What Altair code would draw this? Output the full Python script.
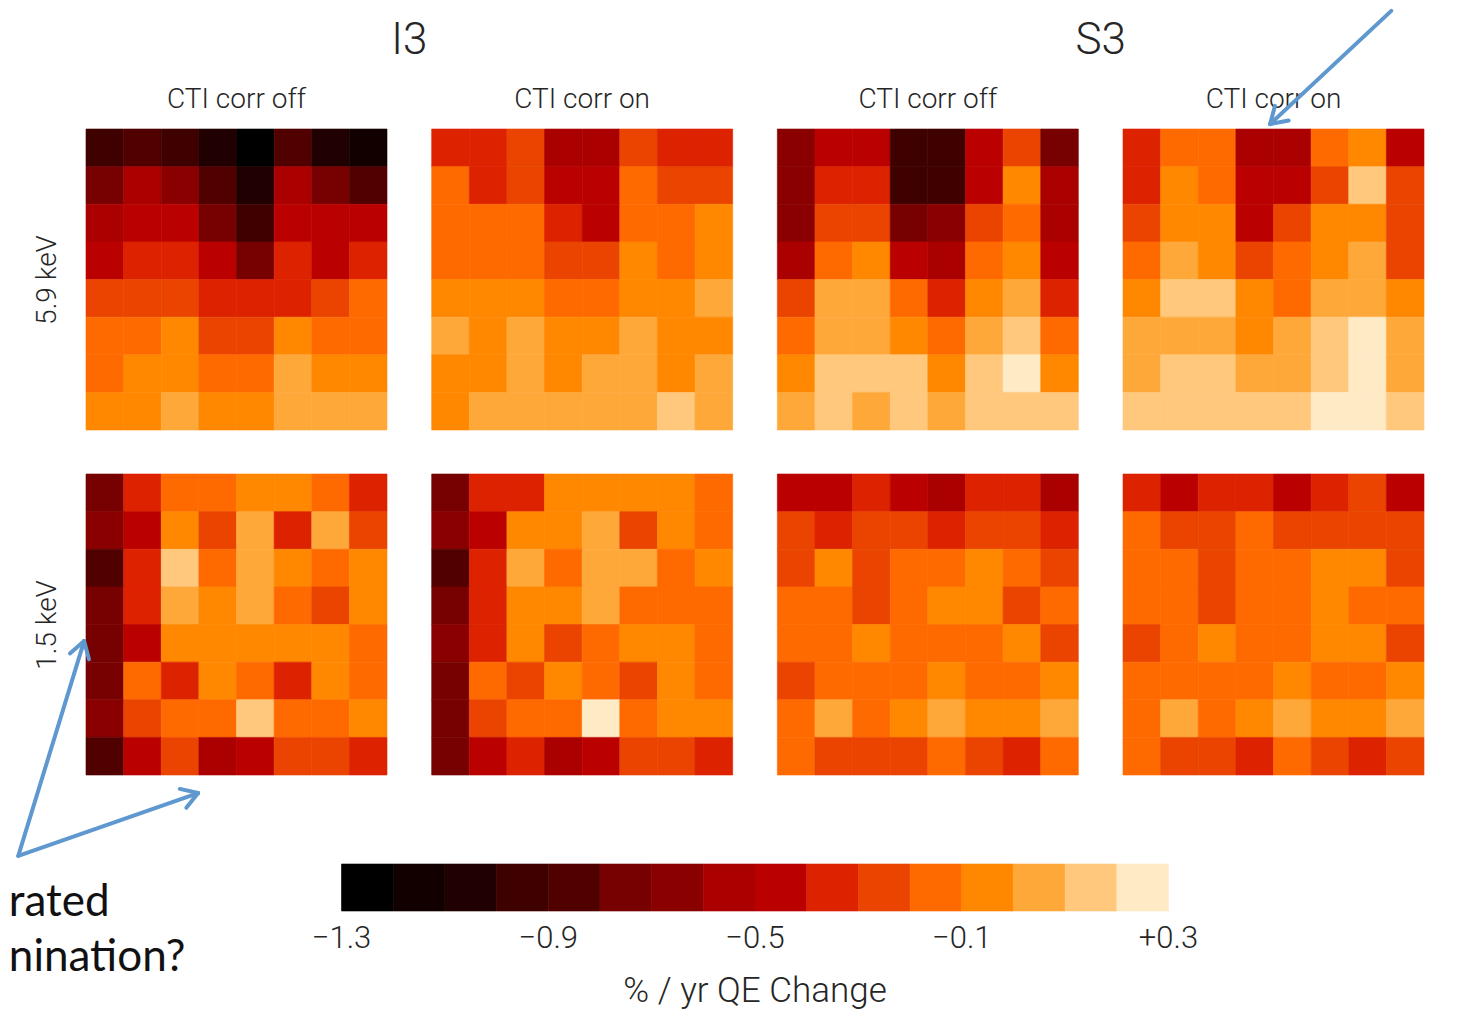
import math
import altair as alt
import pandas as pd

# ---------------- data ----------------
# colour-bin edges of the % / yr QE change scale
BIN_EDGES = [-1.3, -1.2, -1.1, -1.0, -0.9, -0.8, -0.7, -0.6, -0.5,
             -0.4, -0.3, -0.2, -0.1, 0.0, 0.1, 0.2, 0.3]
BIN_COLORS = ["#000000", "#120000", "#200000", "#3f0000", "#510000", "#770000",
              "#8a0000", "#aa0000", "#bb0000", "#dd2200", "#ea4400", "#ff6a00",
              "#ff8800", "#ffa83a", "#ffc87c", "#ffeac6"]
TICK_VALUES = [-1.3, -0.9, -0.5, -0.1, 0.3]
CB_TITLE = "% / yr QE Change"

DETECTORS = ["I3", "S3"]
CTI_LABELS = ["CTI corr off", "CTI corr on"]
ENERGIES = ["5.9 keV", "1.5 keV"]

# 8x8 node maps, values are bin indices of the colour scale (row 0 = top)
I3_OFF_59 = [[3, 4, 3, 2, 0, 4, 2, 1],
             [5, 7, 6, 4, 2, 7, 5, 4],
             [7, 8, 8, 5, 3, 8, 8, 8],
             [8, 9, 9, 8, 5, 9, 8, 9],
             [10, 10, 10, 9, 9, 9, 10, 11],
             [11, 11, 12, 10, 10, 12, 11, 11],
             [11, 12, 12, 11, 11, 13, 12, 12],
             [12, 12, 13, 12, 12, 13, 13, 13]]
I3_ON_59 = [[9, 9, 10, 7, 7, 10, 9, 9],
            [11, 9, 10, 8, 8, 11, 10, 10],
            [11, 11, 11, 9, 8, 11, 11, 12],
            [11, 11, 11, 10, 10, 12, 11, 12],
            [12, 12, 12, 11, 11, 12, 12, 13],
            [13, 12, 13, 12, 12, 13, 12, 12],
            [12, 12, 13, 12, 13, 13, 12, 13],
            [12, 13, 13, 13, 13, 13, 14, 13]]
S3_OFF_59 = [[6, 8, 8, 3, 3, 8, 10, 5],
             [6, 9, 9, 3, 3, 8, 12, 7],
             [6, 10, 10, 5, 6, 10, 11, 7],
             [7, 11, 12, 8, 7, 11, 12, 8],
             [10, 13, 13, 11, 9, 12, 13, 9],
             [11, 13, 13, 12, 11, 13, 14, 11],
             [12, 14, 14, 14, 12, 14, 15, 12],
             [13, 14, 13, 14, 13, 14, 14, 14]]
S3_ON_59 = [[9, 11, 11, 7, 7, 11, 12, 8],
            [9, 12, 11, 8, 8, 10, 14, 10],
            [10, 12, 12, 8, 10, 12, 12, 10],
            [11, 13, 12, 10, 11, 12, 13, 10],
            [12, 14, 14, 12, 11, 13, 13, 12],
            [13, 13, 13, 12, 13, 14, 15, 13],
            [13, 14, 14, 13, 13, 14, 15, 13],
            [14, 14, 14, 14, 14, 15, 15, 14]]
I3_OFF_15 = [[5, 9, 11, 11, 12, 12, 11, 9],
             [6, 8, 12, 10, 13, 9, 13, 10],
             [4, 9, 14, 11, 13, 12, 11, 12],
             [5, 9, 13, 12, 13, 11, 10, 12],
             [5, 8, 12, 12, 12, 12, 12, 11],
             [5, 11, 9, 12, 11, 9, 12, 11],
             [6, 10, 11, 11, 14, 11, 11, 12],
             [4, 8, 10, 7, 8, 10, 10, 9]]
I3_ON_15 = [[5, 9, 9, 12, 12, 12, 12, 11],
            [6, 8, 12, 12, 13, 10, 12, 11],
            [4, 9, 13, 11, 13, 13, 11, 12],
            [5, 9, 12, 12, 13, 11, 11, 11],
            [6, 9, 12, 10, 11, 12, 12, 11],
            [5, 11, 10, 12, 11, 10, 12, 11],
            [5, 10, 11, 11, 15, 11, 12, 12],
            [5, 8, 9, 7, 8, 10, 10, 9]]
S3_OFF_15 = [[8, 8, 9, 8, 7, 9, 9, 7],
             [10, 9, 10, 10, 9, 10, 10, 9],
             [10, 12, 10, 11, 11, 12, 11, 10],
             [11, 11, 10, 11, 12, 12, 10, 11],
             [11, 11, 12, 11, 11, 11, 12, 10],
             [10, 11, 11, 11, 12, 11, 11, 12],
             [11, 13, 11, 12, 13, 12, 12, 13],
             [11, 10, 10, 10, 11, 10, 9, 11]]
S3_ON_15 = [[9, 8, 9, 9, 8, 9, 10, 8],
            [11, 10, 10, 11, 10, 10, 10, 10],
            [11, 11, 10, 11, 11, 12, 12, 10],
            [11, 11, 10, 11, 11, 12, 11, 11],
            [10, 11, 12, 11, 11, 12, 12, 10],
            [11, 11, 11, 11, 12, 11, 11, 12],
            [11, 13, 11, 12, 13, 12, 12, 13],
            [11, 10, 10, 9, 11, 10, 9, 10]]

ANNOT_TEXT = ["rated", "nination?"]

# ---------------- styles ----------------
FONT = "Roboto"
TXT = "#262626"
ARROW = "#5f97cf"
PANEL = 301
GAP = 44.67
ROW_GAP = 44
CB_H = 47
CB_GAP = 89
CB_LEN = 827

mids = [(BIN_EDGES[i] + BIN_EDGES[i + 1]) / 2 for i in range(len(BIN_EDGES) - 1)]
cscale = alt.Scale(type="threshold", domain=BIN_EDGES[1:-1], range=BIN_COLORS)
xs = alt.Scale(domain=[0, 8], nice=False, zero=False)
ys = alt.Scale(domain=[0, 8], nice=False, zero=False, reverse=True)


def arrow(x0, y0, x1, y1, head=0.5, deg=32):
    L = math.hypot(x1 - x0, y1 - y0)
    ux, uy = (x0 - x1) / L, (y0 - y1) / L
    segs = [dict(x=x0, y=y0, x2=x1, y2=y1)]
    for s in (1, -1):
        a = math.radians(deg) * s
        vx = ux * math.cos(a) - uy * math.sin(a)
        vy = ux * math.sin(a) + uy * math.cos(a)
        segs.append(dict(x=x1, y=y1, x2=x1 + head * vx, y2=y1 + head * vy))
    return segs


def yaxis_for(label):
    if label is None:
        return None
    return alt.Axis(title=label, labels=False, ticks=False, domain=False, grid=False,
                    titleFont=FONT, titleFontSize=28, titleFontWeight=300,
                    titleColor=TXT, titlePadding=25)


def panel(levels, title=None, row_label=None, arrows=None, texts=None, heading=None):
    rows = []
    for r, line in enumerate(levels):
        for c, b in enumerate(line):
            rows.append({"row": r, "col": c, "value": mids[b]})
    df = pd.DataFrame(rows)
    yax = yaxis_for(row_label)
    heat = alt.Chart(df).transform_calculate(
        col2="datum.col + 1", row2="datum.row + 1"
    ).mark_rect(strokeWidth=0.6).encode(
        x=alt.X("col:Q", scale=xs, axis=None),
        x2="col2:Q",
        y=alt.Y("row:Q", scale=ys, axis=yax),
        y2="row2:Q",
        color=alt.Color("value:Q", scale=cscale, legend=None),
        stroke=alt.Stroke("value:Q", scale=cscale, legend=None),
    )
    layers = [heat]
    if heading:
        layers.append(
            alt.Chart(pd.DataFrame([heading])).mark_text(
                align="center", baseline="alphabetic", font=FONT, fontWeight=300,
                fontSize=44, color=TXT
            ).encode(
                x=alt.X("x:Q", scale=xs, axis=None),
                y=alt.Y("y:Q", scale=ys, axis=yax),
                text="t:N",
            )
        )
    if arrows:
        segs = []
        for a in arrows:
            segs += arrow(*a)
        layers.append(
            alt.Chart(pd.DataFrame(segs)).mark_rule(
                color=ARROW, strokeWidth=4, strokeCap="round"
            ).encode(
                x=alt.X("x:Q", scale=xs, axis=None),
                y=alt.Y("y:Q", scale=ys, axis=yax),
                x2="x2:Q", y2="y2:Q",
            )
        )
    if texts:
        layers.append(
            alt.Chart(pd.DataFrame(texts)).mark_text(
                align="left", baseline="alphabetic", font="Lato",
                fontSize=44, color="#111111"
            ).encode(
                x=alt.X("x:Q", scale=xs, axis=None),
                y=alt.Y("y:Q", scale=ys, axis=yax),
                text="t:N",
            )
        )
    ch = alt.layer(*layers).properties(width=PANEL, height=PANEL)
    if title:
        ch = ch.properties(title=alt.TitleParams(
            title, font=FONT, fontSize=28, fontWeight=300, color=TXT, offset=15))
    return ch


# annotation anchors, in cell units of the (lower-row) panel they are drawn in;
# the lower row is drawn last, so these sit on top of the upper row
group_mid = 8 + (GAP / (PANEL / 8)) / 2
p5_head = {"x": group_mid, "y": -11.16, "t": DETECTORS[0]}
p7_head = {"x": group_mid, "y": -11.16, "t": DETECTORS[1]}
p5_arrows = [(-1.80, 10.15, -0.05, 4.44), (-1.80, 10.15, 2.98, 8.48)]
p5_texts = [{"x": -2.05, "y": 11.75, "t": ANNOT_TEXT[0]},
            {"x": -2.05, "y": 13.22, "t": ANNOT_TEXT[1]}]
p8_arrows = [(7.13, -12.31, 3.91, -9.30)]

p1 = panel(I3_OFF_59, CTI_LABELS[0], ENERGIES[0])
p2 = panel(I3_ON_59, CTI_LABELS[1])
p3 = panel(S3_OFF_59, CTI_LABELS[0])
p4 = panel(S3_ON_59, CTI_LABELS[1])
p5 = panel(I3_OFF_15, None, ENERGIES[1], arrows=p5_arrows, texts=p5_texts, heading=p5_head)
p6 = panel(I3_ON_15)
p7 = panel(S3_OFF_15, heading=p7_head)
p8 = panel(S3_ON_15, arrows=p8_arrows)

# colour bar: lives in the first grid column, its scale runs on past the view
span = 4 * PANEL + 3 * GAP
px_per_unit = CB_LEN / (BIN_EDGES[-1] - BIN_EDGES[0])
left_off = (span - CB_LEN) / 2
cb_lo = BIN_EDGES[0] - left_off / px_per_unit
cb_hi = cb_lo + PANEL / px_per_unit
cbx = alt.Scale(domain=[cb_lo, cb_hi], nice=False, zero=False)
cb_top = CB_GAP - ROW_GAP
cb_view_h = cb_top + CB_H

cb_df = pd.DataFrame({"lo": BIN_EDGES[:-1], "hi": BIN_EDGES[1:], "mid": mids})
bar = alt.Chart(cb_df).mark_rect(strokeWidth=0.6).encode(
    x=alt.X("lo:Q", scale=cbx, axis=None),
    x2="hi:Q",
    y=alt.value(cb_top),
    y2=alt.value(cb_view_h),
    color=alt.Color("mid:Q", scale=cscale, legend=None),
    stroke=alt.Stroke("mid:Q", scale=cscale, legend=None),
)
ticks = alt.Chart(pd.DataFrame({"v": TICK_VALUES})).mark_text(
    font=FONT, fontSize=31, fontWeight=300, color=TXT, baseline="middle", align="center"
).encode(
    x=alt.X("v:Q", scale=cbx, axis=None),
    y=alt.value(cb_view_h + 28),
    text=alt.Text("v:Q", format="+.1f"),
)
cb_title = alt.Chart(pd.DataFrame({
    "v": [(BIN_EDGES[0] + BIN_EDGES[-1]) / 2], "t": [CB_TITLE]})).mark_text(
    font=FONT, fontSize=35, fontWeight=300, color=TXT, baseline="middle", align="center"
).encode(
    x=alt.X("v:Q", scale=cbx, axis=None),
    y=alt.value(cb_view_h + 80),
    text="t:N",
)
colorbar = alt.layer(bar, ticks, cb_title).properties(width=PANEL, height=cb_view_h)

chart = alt.concat(
    p1, p2, p3, p4, p5, p6, p7, p8, colorbar,
    columns=4, spacing={"row": ROW_GAP, "column": GAP}, bounds="flush",
).properties(
    padding={"left": 0, "top": 0, "right": 0, "bottom": 8}, background="white"
).configure_view(stroke=None)

chart.save("out.html", embed_options={"renderer": "svg", "actions": False})
